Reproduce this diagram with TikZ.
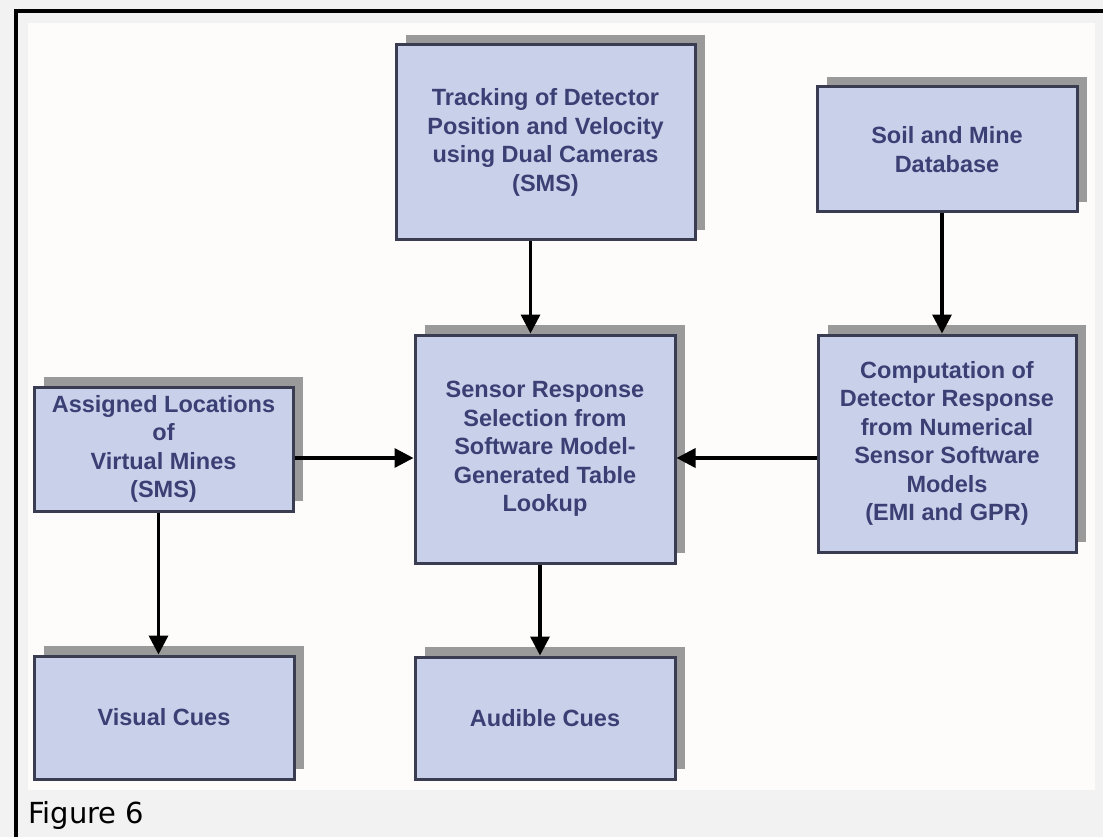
\documentclass[tikz,border=0pt]{standalone}
\usepackage{fontspec}
\newfontfamily\boxfont{Liberation Sans}
\newfontfamily\captionfont{DejaVu Sans}
\usetikzlibrary{arrows.meta,shadows}

\definecolor{boxfill}{HTML}{C9D0EA}
\definecolor{boxline}{HTML}{3A3D52}
\definecolor{boxtext}{HTML}{3A3F74}
\definecolor{shadowgray}{HTML}{9A9A9A}
\definecolor{pagegray}{HTML}{F2F2F2}
\definecolor{panelwhite}{HTML}{FDFCFA}

\begin{document}
\begin{tikzpicture}[x=1pt,y=-1pt]
\useasboundingbox (0,0) rectangle (1103,837);

\begin{scope} % page, frame and caption
  \fill[pagegray] (0,0) rectangle (1103,837);
  \fill[panelwhite] (28,23) rectangle (1095,790);
  \draw[line width=4pt] (16,837) -- (16,11.5) -- (1103,11.5);
  \node (caption) at (28,823) [anchor=base west,inner sep=0pt]
    {\captionfont\fontsize{29}{31}\selectfont Figure 6};
\end{scope}

\begin{scope} % shaded blocks
  [block/.style={draw=boxline,line width=3pt,fill=boxfill,text=boxtext,
    inner sep=0pt,align=center,
    font=\boxfont\bfseries\fontsize{23.5}{28.5}\selectfont,
    drop shadow={shadow xshift=10pt,shadow yshift=10pt,fill=shadowgray,
      opacity=1}}]
  \node (track) at (545.5,142.5) [block,minimum width=299pt,minimum height=195pt]
    {Tracking of Detector\\Position and Velocity\\using Dual Cameras\\(SMS)};
  \node (soil) at (947,149.5) [block,minimum width=260pt,minimum height=125pt]
    {Soil and Mine\\Database};
  \node (sensor) at (545,449) [block,minimum width=260pt,minimum height=228pt]
    {Sensor Response\\Selection from\\Software Model-\\Generated Table\\Lookup};
  \node (assigned) at (163.5,449) [block,minimum width=259pt,minimum height=124pt]
    {Assigned Locations\\of\\Virtual Mines\\(SMS)};
  \node (comp) at (947,443.5) [block,minimum width=258pt,minimum height=217pt]
    {Computation of\\Detector Response\\from Numerical\\Sensor Software\\Models\\(EMI and GPR)};
  \node (visual) at (164,717.5) [block,minimum width=260pt,minimum height=123pt]
    {Visual Cues};
  \node (audible) at (545,718) [block,minimum width=260pt,minimum height=122pt]
    {Audible Cues};
\end{scope}

\begin{scope}[line width=3.5pt,-{Triangle[length=19pt,width=19pt]}] % connectors
  \draw ([xshift=-15pt]track.south) -- ([xshift=-15pt]track.south |- sensor.north);
  \draw ([xshift=-5pt]soil.south) -- ([xshift=-5pt]comp.north);
  \draw ([yshift=-9pt]assigned.east) -- ([yshift=-9pt]assigned.east -| sensor.west);
  \draw ([yshift=-9pt]sensor.east -| comp.west) -- ([yshift=-9pt]sensor.east);
  \draw ([xshift=-5pt]assigned.south) -- ([xshift=-5pt]assigned.south |- visual.north);
  \draw ([xshift=-5pt]sensor.south) -- ([xshift=-5pt]audible.north);
\end{scope}

\end{tikzpicture}
\end{document}
